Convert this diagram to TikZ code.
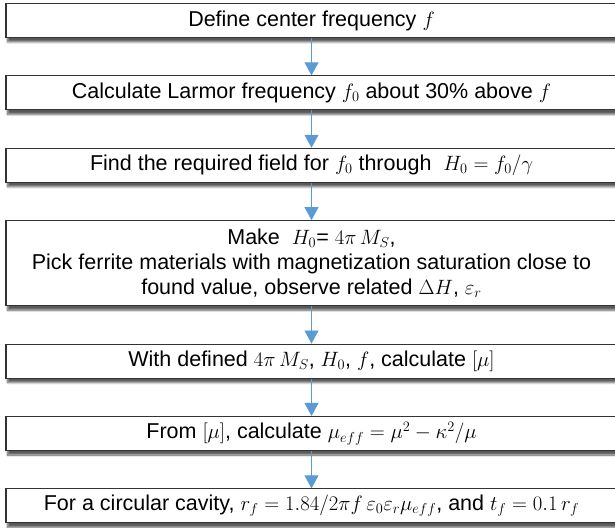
\documentclass[tikz,border=0pt]{standalone}
\usepackage{fontspec}
\setmainfont{Liberation Sans}
\usetikzlibrary{arrows.meta, positioning, shadows.blur}
\definecolor{flowblue}{HTML}{5B9BD5}

\begin{document}
\begin{tikzpicture}[>=Latex, font=\fontsize{21.5}{25}\selectfont,
  stepbox/.style={draw=black!80, line width=1.1pt, fill=white, minimum width=611pt,
    minimum height=34pt, align=center, inner sep=0pt,
    blur shadow={shadow xshift=1.5pt, shadow yshift=-4.5pt, shadow opacity=65, shadow blur steps=6}},
  flow/.style={draw=flowblue, line width=0.8pt, -{Triangle[width=14pt, length=13pt]}},
  node distance=37.3pt]

\useasboundingbox (0,0) rectangle (615pt,-527pt);

% =================================================================================
% the steps, top to bottom
% =================================================================================
\node[stepbox] (define) at (311.5pt,-20.5pt) {Define center frequency $f$};
\node[stepbox, below=of define] (larmor) {Calculate Larmor frequency $f_0$ about 30\% above $f$};
\node[stepbox, below=of larmor] (field) {Find the required field for $f_0$ through \ $H_0 = f_0/\gamma$};
\node[stepbox, below=of field, minimum height=85pt] (ferrite)
  {Make \ $H_0$= $4\pi\, M_S$,\\
   Pick ferrite materials with magnetization saturation close to\\
   found value, observe related $\Delta H$, $\varepsilon_r$};
\node[stepbox, below=of ferrite] (tensor) {With defined $4\pi\, M_S$, $H_0$, $f$, calculate $[\mu]$};
\node[stepbox, below=of tensor] (mueff) {From $[\mu]$, calculate $\mu_{eff} = \mu^2 - \kappa^2/\mu$};
\node[stepbox, below=of mueff] (cavity)
  {For a circular cavity, $r_f = 1.84/2\pi f\,\varepsilon_0\varepsilon_r\mu_{eff}$, and $t_f = 0.1\, r_f$};

% =================================================================================
% the arrows
% =================================================================================
\draw[flow] (define) -- (larmor);
\draw[flow] (larmor) -- (field);
\draw[flow] (field) -- (ferrite);
\draw[flow] (ferrite) -- (tensor);
\draw[flow] (tensor) -- (mueff);
\draw[flow] (mueff) -- (cavity);

\end{tikzpicture}
\end{document}
